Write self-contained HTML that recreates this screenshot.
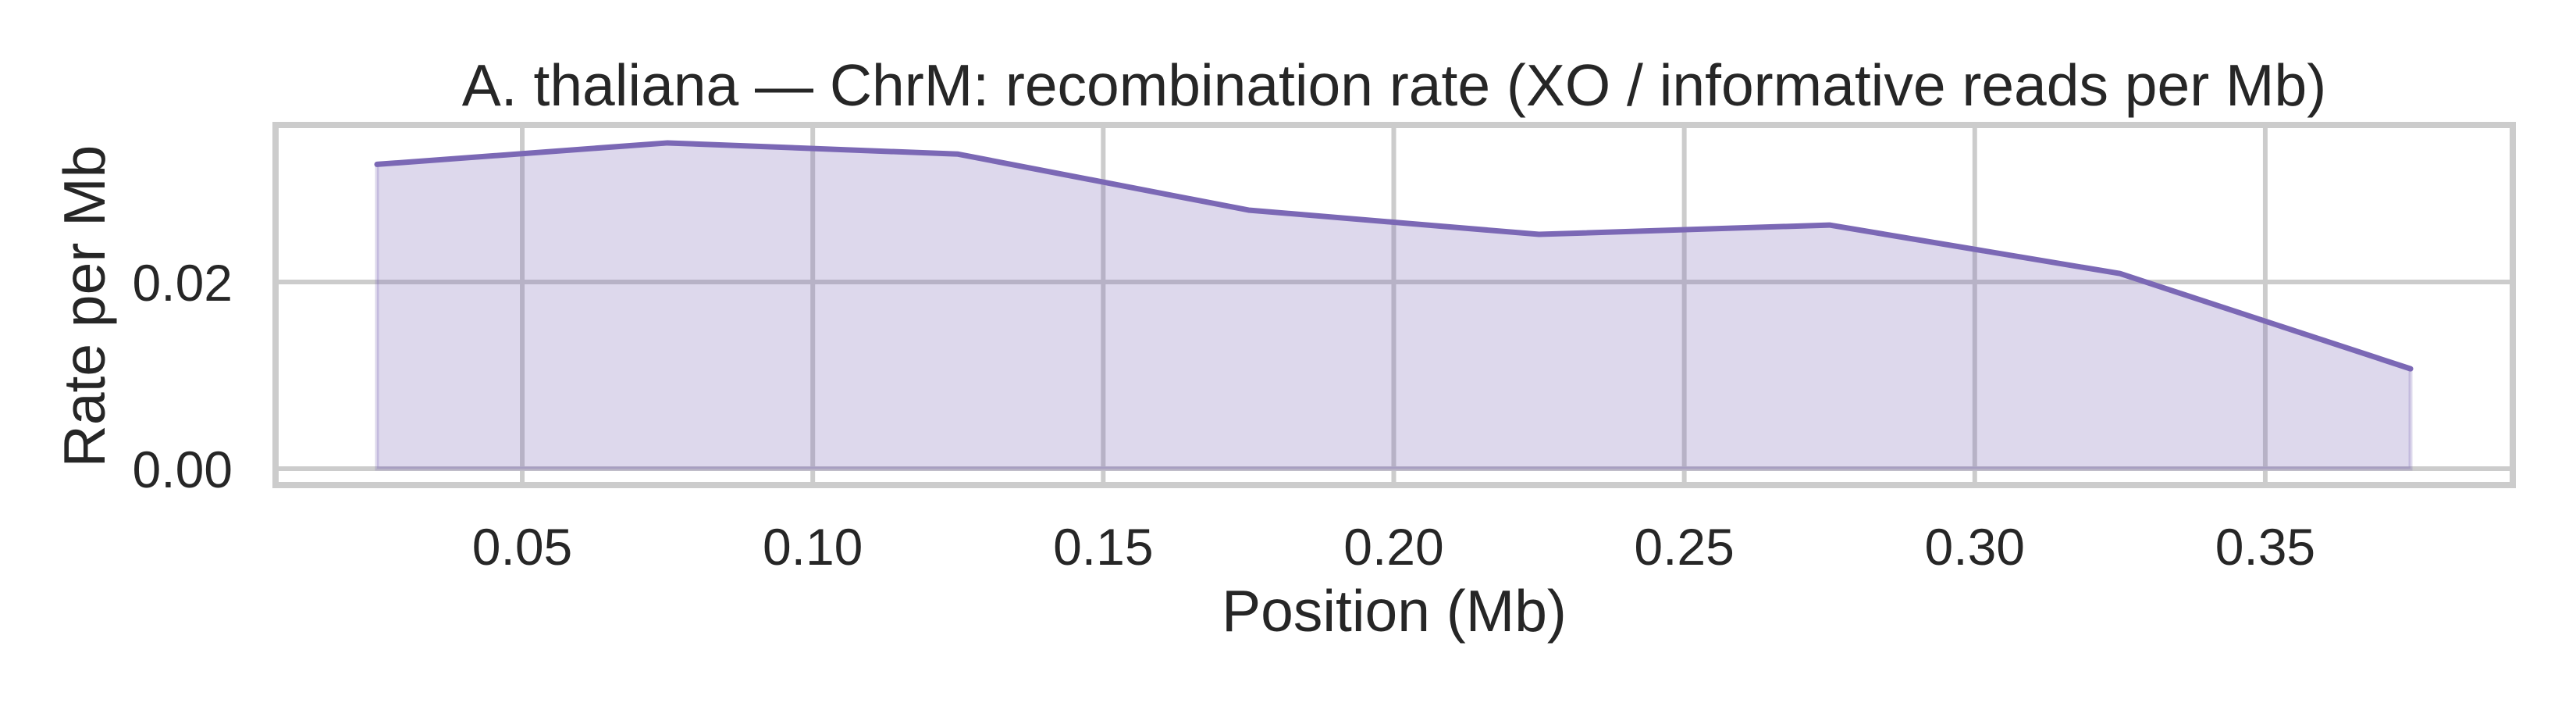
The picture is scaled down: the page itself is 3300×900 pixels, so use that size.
<!DOCTYPE html>
<html><head><meta charset="utf-8"><style>
html,body{margin:0;padding:0;background:#fff;}
svg{display:block;font-family:"Liberation Sans",Arial,sans-serif;}
</style></head><body>
<svg id="chart" width="3300" height="900" viewBox="0 0 3300 900" xmlns="http://www.w3.org/2000/svg">
<rect x="0" y="0" width="3300" height="900" fill="#fff"/>
<g id="grid"></g>
<g id="series"></g>
<rect x="353" y="160" width="2866" height="461" fill="none" stroke="#cccccc" stroke-width="8"/>
<g id="ticks" fill="#262626" font-size="66"></g>
<text x="1786" y="135" text-anchor="middle" font-size="75" fill="#262626">A. thaliana — ChrM: recombination rate (XO / informative reads per Mb)</text>
<text x="1786" y="808" text-anchor="middle" font-size="75" fill="#262626">Position (Mb)</text>
<text transform="translate(134,392) rotate(-90)" text-anchor="middle" font-size="75" fill="#262626">Rate per Mb</text>
</svg>
<script>
const positions = [0.025, 0.075, 0.125, 0.175, 0.225, 0.275, 0.325, 0.375];
const rates = [0.0326, 0.0349, 0.0337, 0.0277, 0.0251, 0.0261, 0.0209, 0.0107];
const xTicks = [0.05, 0.10, 0.15, 0.20, 0.25, 0.30, 0.35];
const xTickLabels = ["0.05", "0.10", "0.15", "0.20", "0.25", "0.30", "0.35"];
const yTicks = [0.00, 0.02];
const yTickLabels = ["0.00", "0.02"];

const NS = "http://www.w3.org/2000/svg";
const L = 353, R = 3219, T = 160, B = 621;
const X0 = 0.00754, X1 = 0.3926, Y0 = -0.00176, Y1 = 0.03682;
function sx(v){ return L + (v - X0) / (X1 - X0) * (R - L); }
function sy(v){ return B - (v - Y0) / (Y1 - Y0) * (B - T); }
function mk(tag, attrs, parent){
  const e = document.createElementNS(NS, tag);
  for (const k in attrs) e.setAttribute(k, attrs[k]);
  parent.appendChild(e);
  return e;
}
const grid = document.getElementById('grid');
const ticks = document.getElementById('ticks');
const series = document.getElementById('series');

xTicks.forEach((v, i) => {
  const g = mk('line', {x1: sx(v), x2: sx(v), y1: T, y2: B, stroke: '#cccccc', 'stroke-width': 6}, grid);
  
  
  const t = mk('text', {x: sx(v), y: 723, 'text-anchor': 'middle'}, ticks);
  t.textContent = xTickLabels[i];
  
  
});
yTicks.forEach((v, i) => {
  const g = mk('line', {x1: L, x2: R, y1: sy(v), y2: sy(v), stroke: '#cccccc', 'stroke-width': 6}, grid);
  
  
  const t = mk('text', {x: 298, y: sy(v) + 24, 'text-anchor': 'end'}, ticks);
  t.textContent = yTickLabels[i];
  
  
});

let pts = positions.map((p, i) => sx(p) + ',' + sy(rates[i]));
let area = 'M' + sx(positions[0]) + ',' + sy(0) + ' L' + pts.join(' L') + ' L' + sx(positions[positions.length-1]) + ',' + sy(0) + ' Z';
const a = mk('path', {d: area, fill: 'rgba(123,104,181,0.26)', stroke: 'rgba(123,104,181,0.26)', 'stroke-width': 5}, series);


const ln = mk('polyline', {points: pts.join(' '), fill: 'none', stroke: '#7b68b5', 'stroke-width': 7, 'stroke-linecap': 'round', 'stroke-linejoin': 'round'}, series);


</script>
</body></html>
